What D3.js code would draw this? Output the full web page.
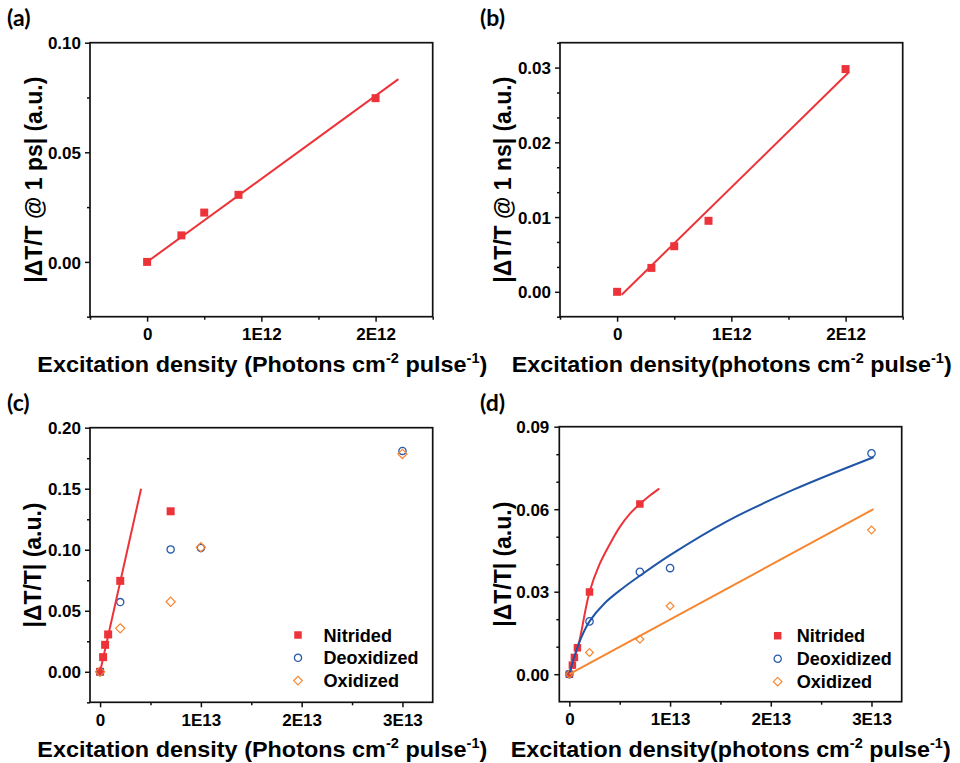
<!DOCTYPE html>
<html><head><meta charset="utf-8">
<script src="https://cdn.jsdelivr.net/npm/d3@7"></script>
<style>
body{margin:0;background:#fff}
svg{display:block}
text{font-family:"Liberation Sans",Arial,sans-serif;font-weight:bold;fill:#000}
</style>
</head><body><svg id="chart" width="960" height="763"></svg>
<script>
// ---------- data ----------
const densityAB = [0, 0.3e12, 0.5e12, 0.8e12, 2e12];
const signal1ps = [0, 0.0121, 0.0225, 0.0306, 0.0747];
const fit1psX = [0, 2.2e12];
const fit1psY = [0, 0.0834];
const signal1ns = [0, 0.0032, 0.0061, 0.0095, 0.0298];
const fit1nsX = [0.04e12, 2.03e12];
const fit1nsY = [-0.0004, 0.0294];

const densityNitrided = [0, 0.3e12, 0.5e12, 0.8e12, 2e12, 7e12];
const densityOther = [0, 2e12, 7e12, 1e13, 3e13];
const nitridedC = [0, 0.012, 0.0221, 0.0306, 0.0745, 0.1315];
const deoxidizedC = [0, 0.0571, 0.1003, 0.1015, 0.181];
const oxidizedC = [0, 0.0356, 0.0574, 0.102, 0.1785];
const fitCX = [0, 4.07e12];
const fitCY = [0, 0.150];

const nitridedD = [0, 0.0033, 0.0061, 0.0096, 0.0299, 0.0619];
const deoxidizedD = [0, 0.0192, 0.0372, 0.0386, 0.0803];
const oxidizedD = [0, 0.0079, 0.0127, 0.0248, 0.0524];
const curveNitridedX = [0, 0.5e12, 1e12, 2e12, 3e12, 4e12, 5e12, 6e12, 7e12, 8e12, 8.93e12];
const curveNitridedY = [0, 0.0058, 0.0122, 0.0299, 0.0400, 0.0472, 0.0535, 0.0583, 0.0619, 0.0650, 0.0675];
const curveDeoxX = [0, 0.5e12, 1.2e12, 2e12, 3.5e12, 5.2e12, 7e12, 10e12, 15.6e12, 22.2e12, 30.2e12];
const curveDeoxY = [0, 0.0065, 0.0135, 0.0192, 0.0258, 0.031, 0.0358, 0.0433, 0.0555, 0.067, 0.0789];
const lineOxX = [0, 3.02e13];
const lineOxY = [0, 0.060];

const xTickValsAB = [0, 1e12, 2e12];
const xTickLabelsAB = ["0", "1E12", "2E12"];
const xMinorAB = [-0.5e12, 0.5e12, 1.5e12, 2.5e12];
const xTickValsCD = [0, 1e13, 2e13, 3e13];
const xTickLabelsCD = ["0", "1E13", "2E13", "3E13"];
const xMinorCD = [0.5e13, 1.5e13, 2.5e13];
const yTickLabelsA = ["0.00", "0.05", "0.10"];
const yTickLabelsB = ["0.00", "0.01", "0.02", "0.03"];
const yTickLabelsC = ["0.00", "0.05", "0.10", "0.15", "0.20"];
const yTickLabelsD = ["0.00", "0.03", "0.06", "0.09"];
const yMinorA = [-0.025, 0.025, 0.075];
const yMinorB = [0.00333, 0.00667, 0.01333, 0.01667, 0.02333, 0.02667, 0.03333, -0.00333];
const yMinorC = [0.025, 0.075, 0.125, 0.175, -0.025];
const yMinorD = [0.01, 0.02, 0.04, 0.05, 0.07, 0.08];
const seriesNames = ["Nitrided", "Deoxidized", "Oxidized"];

// ---------- style ----------
const RED = "#ec3339", BLUE = "#2759ad", BLUE_LINE = "#1f55a6", ORANGE = "#f7862f";
const svg = d3.select("#chart");
svg.append("rect").attr("width", 960).attr("height", 763).attr("fill", "#fff");

function zip(xs, ys) { return xs.map((v, i) => [v, ys[i]]); }

function drawPanel(cfg) {
  const g = svg.append("g");
  const x = d3.scaleLinear().domain(cfg.xDomain).range([cfg.left, cfg.right]);
  const y = d3.scaleLinear().domain(cfg.yDomain).range([cfg.bottom, cfg.top]);

  // minor ticks
  g.append("g").attr("transform", `translate(0,${cfg.bottom})`)
    .call(d3.axisBottom(x).tickValues(cfg.xMinor).tickSize(3).tickFormat(""));
  g.append("g").attr("transform", `translate(${cfg.left},0)`)
    .call(d3.axisLeft(y).tickValues(cfg.yMinor).tickSize(3).tickFormat(""));
  // major ticks
  const xa = g.append("g").attr("transform", `translate(0,${cfg.bottom})`)
    .call(d3.axisBottom(x).tickValues(cfg.xTicks).tickSize(5).tickFormat((d, i) => cfg.xLabels[i]));
  xa.selectAll("text").attr("y", 23.5).attr("dy", null).style("font-size", "17px");
  const yVals = cfg.yLabels.map(Number);
  const ya = g.append("g").attr("transform", `translate(${cfg.left},0)`)
    .call(d3.axisLeft(y).tickValues(yVals).tickSize(5).tickFormat((d, i) => cfg.yLabels[i]));
  ya.selectAll("text").attr("x", -cfg.yLabelGap).attr("dy", "0.36em").style("font-size", "17px");
  g.selectAll(".domain").remove();
  g.selectAll(".tick line").attr("stroke", "#111").attr("stroke-width", 1.5);
  g.selectAll(".tick text").attr("fill", "#000").style("font-family", '"Liberation Sans",Arial,sans-serif').style("font-weight", "bold");

  // frame
  g.append("rect").attr("x", cfg.left).attr("y", cfg.top)
    .attr("width", cfg.right - cfg.left).attr("height", cfg.bottom - cfg.top)
    .attr("fill", "none").attr("stroke", "#111").attr("stroke-width", 1.7);

  const plot = g.append("g");
  const line = d3.line().x(d => x(d[0])).y(d => y(d[1]));
  const curve = d3.line().x(d => x(d[0])).y(d => y(d[1])).curve(d3.curveCatmullRom.alpha(0.5));

  cfg.series.forEach(s => {
    const pts = zip(s.x, s.y);
    const sel = plot.append("g").selectAll("path").data(pts).join("path")
      .attr("transform", d => `translate(${x(d[0])},${y(d[1])})`);
    if (s.shape === "square") {
      sel.attr("d", d3.symbol(d3.symbolSquare, s.size * s.size)()).attr("fill", s.color);
    } else if (s.shape === "circle") {
      sel.attr("d", d3.symbol(d3.symbolCircle, Math.PI * s.size * s.size)()).attr("fill", "none")
        .attr("stroke", s.color).attr("stroke-width", 1.3);
    } else {
      const r = s.size;
      sel.attr("d", `M0,${-r}L${r},0L0,${r}L${-r},0Z`).attr("fill", "none")
        .attr("stroke", s.color).attr("stroke-width", 1.2);
    }
  });
  cfg.fits.forEach(f => {
    plot.append("path").datum(zip(f.x, f.y)).attr("d", f.smooth ? curve : line)
      .attr("fill", "none").attr("stroke", f.color).attr("stroke-width", 2);
  });

  // legend
  if (cfg.legend) {
    const L = cfg.legend;
    cfg.series.forEach((s, i) => {
      const cy = L.y + i * L.dy;
      const m = g.append("path").attr("transform", `translate(${L.x},${cy})`);
      if (s.shape === "square") m.attr("d", d3.symbol(d3.symbolSquare, 7.5 * 7.5)()).attr("fill", s.color);
      else if (s.shape === "circle") m.attr("d", d3.symbol(d3.symbolCircle, Math.PI * 3.6 * 3.6)()).attr("fill", "none").attr("stroke", s.color).attr("stroke-width", 1.3);
      else m.attr("d", "M0,-4.3L4.3,0L0,4.3L-4.3,0Z").attr("fill", "none").attr("stroke", s.color).attr("stroke-width", 1.2);
      g.append("text").attr("x", L.tx).attr("y", cy + 6.5).style("font-size", "18px")
        .attr("textLength", L.lens[i]).attr("lengthAdjust", "spacingAndGlyphs").text(seriesNames[i]);
    });
  }

  // axis titles
  g.append("text")
    .attr("transform", `translate(${cfg.yTitlePos[0]},${(cfg.top + cfg.bottom) / 2}) rotate(-90)`)
    .attr("text-anchor", "middle").style("font-size", "24px")
    .attr("textLength", cfg.yTitleLen).attr("lengthAdjust", "spacingAndGlyphs")
    .text(cfg.yTitle);

  const xt = g.append("text").attr("x", cfg.xTitlePos[0]).attr("y", cfg.xTitlePos[1])
    .style("font-size", "22.5px").attr("textLength", cfg.xTitleLen).attr("lengthAdjust", "spacingAndGlyphs");
  xt.append("tspan").text(cfg.xTitle[0]);
  xt.append("tspan").attr("dy", -9).style("font-size", "14px").text("-2");
  xt.append("tspan").attr("dy", 9).text(" pulse");
  xt.append("tspan").attr("dy", -9).style("font-size", "14px").text("-1");
  xt.append("tspan").attr("dy", 9).text(")");

  g.append("text").attr("x", cfg.tag[0]).attr("y", cfg.tag[1])
    .style("font-family", "Lato, 'Open Sans', sans-serif").style("font-size", "23px").style("font-weight", "bold")
    .text(cfg.tagText);
}

drawPanel({
  tagText: "(a)", tag: [7, 25.5],
  left: 90, right: 432.7, top: 42.7, bottom: 316.7,
  xDomain: [-0.5e12, 2.5e12], yDomain: [-0.025, 0.10],
  xTicks: xTickValsAB, xLabels: xTickLabelsAB, xMinor: xMinorAB,
  yLabels: yTickLabelsA, yMinor: yMinorA, yLabelGap: 9,
  series: [{ x: densityAB, y: signal1ps, shape: "square", color: RED, size: 8 }],
  fits: [{ x: fit1psX, y: fit1psY, color: RED }],
  yTitle: "|\u0394T/T @ 1 ps| (a.u.)", yTitlePos: [42], yTitleLen: 206,
  xTitle: ["Excitation density (Photons cm"], xTitlePos: [37.3, 372], xTitleLen: 450
});

drawPanel({
  tagText: "(b)", tag: [480, 25.5],
  left: 560, right: 902.7, top: 42.7, bottom: 316.7,
  xDomain: [-0.5e12, 2.5e12], yDomain: [-0.00333, 0.03333],
  xTicks: xTickValsAB, xLabels: xTickLabelsAB, xMinor: xMinorAB,
  yLabels: yTickLabelsB, yMinor: yMinorB, yLabelGap: 9,
  series: [{ x: densityAB, y: signal1ns, shape: "square", color: RED, size: 8 }],
  fits: [{ x: fit1nsX, y: fit1nsY, color: RED }],
  yTitle: "|\u0394T/T @ 1 ns| (a.u.)", yTitlePos: [511], yTitleLen: 206,
  xTitle: ["Excitation density(photons cm"], xTitlePos: [511.7, 372], xTitleLen: 440
});

drawPanel({
  tagText: "(c)", tag: [7, 410.5],
  left: 90, right: 432.7, top: 427.7, bottom: 702.3,
  xDomain: [-0.1e13, 3.3e13], yDomain: [-0.025, 0.20],
  xTicks: xTickValsCD, xLabels: xTickLabelsCD, xMinor: xMinorCD,
  yLabels: yTickLabelsC, yMinor: yMinorC, yLabelGap: 9,
  series: [
    { x: densityNitrided, y: nitridedC, shape: "square", color: RED, size: 8 },
    { x: densityOther, y: deoxidizedC, shape: "circle", color: BLUE, size: 3.6 },
    { x: densityOther, y: oxidizedC, shape: "diamond", color: ORANGE, size: 4.6 }
  ],
  fits: [{ x: fitCX, y: fitCY, color: RED }],
  legend: { x: 298, tx: 323.5, y: 635, dy: 22.8, lens: [68.5, 95, 75.5] },
  yTitle: "|\u0394T/T| (a.u.)", yTitlePos: [41], yTitleLen: 125,
  xTitle: ["Excitation density (Photons cm"], xTitlePos: [37.3, 757], xTitleLen: 450
});

drawPanel({
  tagText: "(d)", tag: [480, 410.5],
  left: 559.3, right: 901.7, top: 426.7, bottom: 701.7,
  xDomain: [-0.1e13, 3.3e13], yDomain: [-0.01, 0.09],
  xTicks: xTickValsCD, xLabels: xTickLabelsCD, xMinor: xMinorCD,
  yLabels: yTickLabelsD, yMinor: yMinorD, yLabelGap: 10,
  series: [
    { x: densityNitrided, y: nitridedD, shape: "square", color: RED, size: 7.5 },
    { x: densityOther, y: deoxidizedD, shape: "circle", color: BLUE, size: 3.7 },
    { x: densityOther, y: oxidizedD, shape: "diamond", color: ORANGE, size: 3.9 }
  ],
  fits: [
    { x: curveNitridedX, y: curveNitridedY, color: RED, smooth: true },
    { x: curveDeoxX, y: curveDeoxY, color: BLUE_LINE, smooth: true },
    { x: lineOxX, y: lineOxY, color: ORANGE }
  ],
  legend: { x: 777.7, tx: 796.7, y: 635.7, dy: 23, lens: [68.5, 95, 75.5] },
  yTitle: "|\u0394T/T| (a.u.)", yTitlePos: [511], yTitleLen: 125,
  xTitle: ["Excitation density(photons cm"], xTitlePos: [510.7, 756.5], xTitleLen: 440
});
</script>
</body></html>
